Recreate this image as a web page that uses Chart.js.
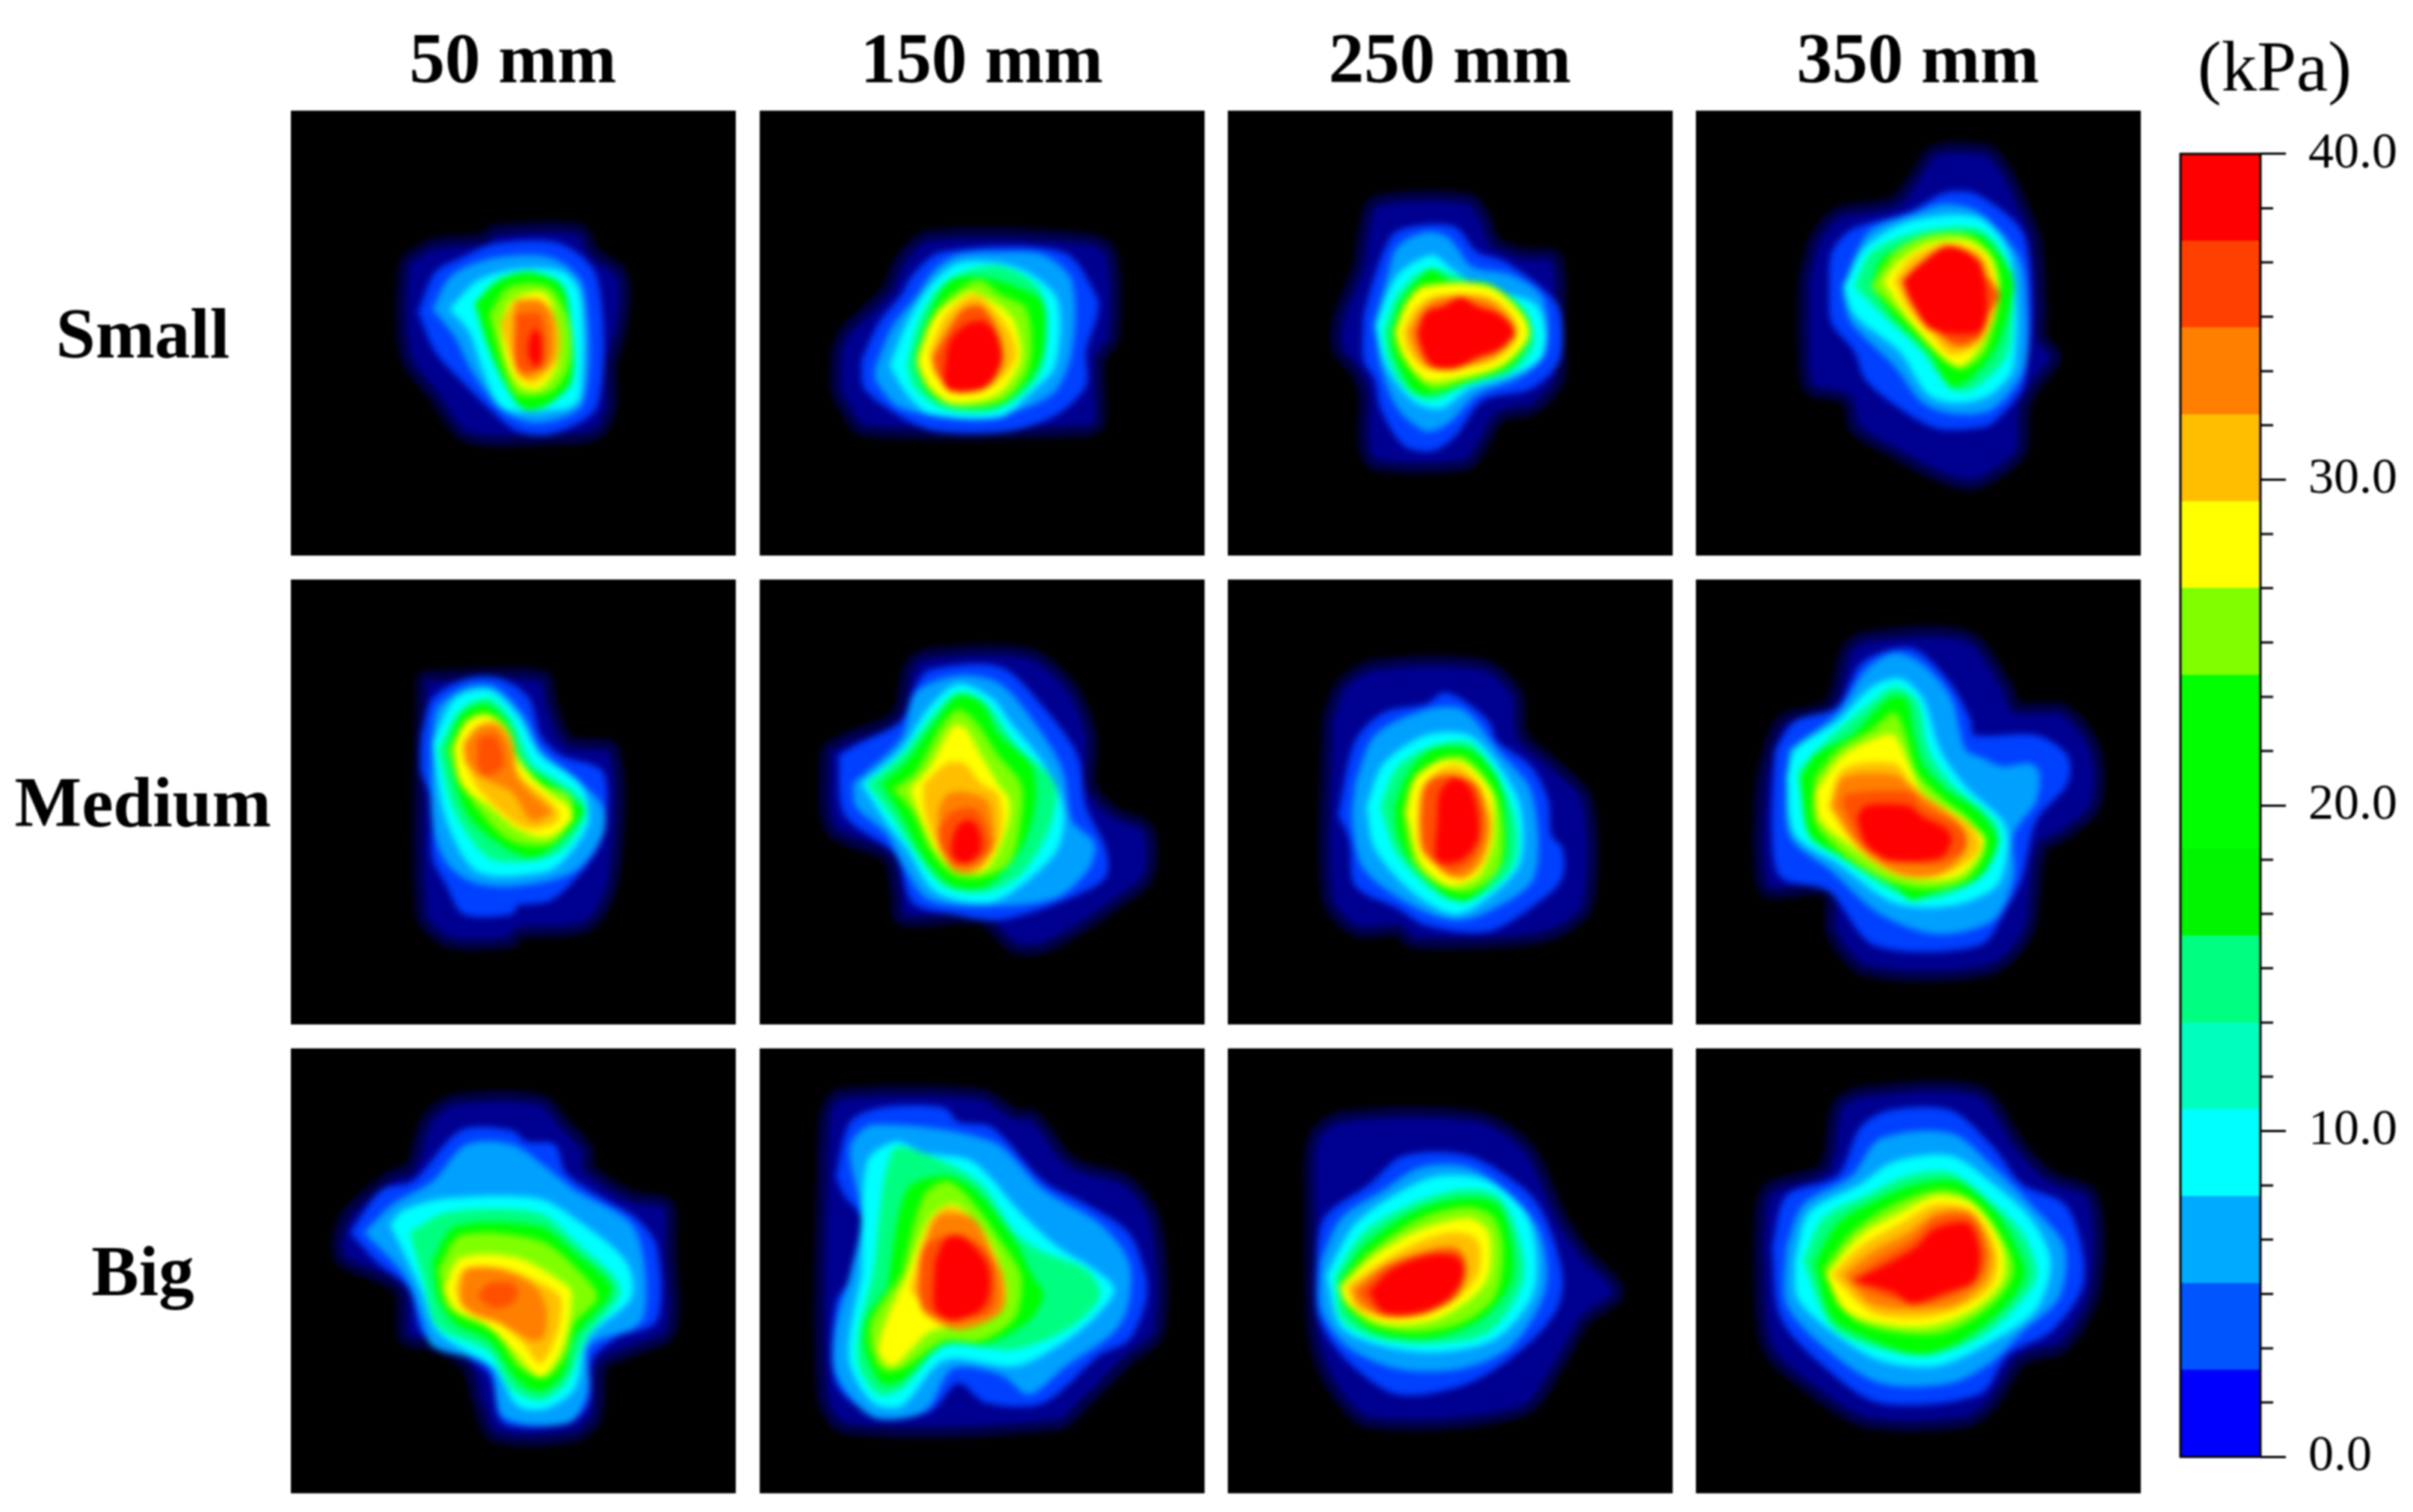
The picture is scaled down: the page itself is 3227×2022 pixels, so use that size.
<!DOCTYPE html>
<html>
<head>
<meta charset="utf-8">
<title>Pressure contours</title>
<script src="https://cdn.jsdelivr.net/npm/chart.js@4"></script>
<style>
  html, body { margin: 0; background: #fff; }
  #page { position: relative; width: 3227px; height: 2022px; overflow: hidden; filter: blur(0.8px); }
  .panel { position: absolute; width: 595px; height: 595px; background: #000; overflow: hidden; }
  .panel canvas { filter: blur(4px); }
  .label { position: absolute; transform: translate(-50%, -50%); font-family: "Liberation Serif", serif; font-size: 95px; color: #000; white-space: nowrap; }
  .bold { font-weight: bold; }
  #colorbar { position: absolute; left: 2900px; top: 135px; }
</style>
</head>
<body>
<div id="page"></div>
<script>
const columnTitles = ["50 mm", "150 mm", "250 mm", "350 mm"];
const rowTitles = ["Small", "Medium", "Big"];
const unitLabel = "(kPa)";

// colorbar, bottom to top
const bandEdges = [0, 2.67, 5.33, 8, 10.67, 13.33, 16, 18.67, 21.33, 24, 26.67, 29.33, 32, 34.67, 37.33, 40];
const bandColors = ["#0000ff", "#0055ff", "#00aaff", "#00ffff", "#00ffbf", "#00ff80", "#00f600", "#00ff00", "#00ff00", "#80ff00", "#ffff00", "#ffbf00", "#ff8000", "#ff4000", "#ff0000"];
const majorTicks = [0, 10, 20, 30, 40];
const minorTicks = [1.67, 3.33, 5, 6.67, 8.33, 11.67, 13.33, 15, 16.67, 18.33, 21.67, 23.33, 25, 26.67, 28.33, 31.67, 33.33, 35, 36.67, 38.33];

// contour fill colour for each level index used in the panels below
const levelColors = ["#000090", "#0040ff", "#00a0ff", "#00ffff", "#00ff80", "#00ff00", "#80ff00", "#ffff00", "#ffbf00", "#ff8000", "#ff5000", "#ff0000"];

// each panel: [level, outline x,y pairs], outer band first
const small50 = [
  [0, [40,53, 50,47, 68,45, 72,42, 102,42, 107,50, 117,58, 117,75, 113,90, 113,105, 108,114, 92,116, 62,115, 50,100, 41,88, 39,70]],
  [1, [45,71, 51,57, 60,52, 72,47, 95,47, 108,59, 108,104, 92,114, 80,113, 70,105, 60,95, 51,85]],
  [2, [50,70, 57,58, 72,52, 92,52, 103,62, 103,103, 88,110, 75,106, 64,92, 58,80]],
  [3, [56,70, 66,60, 80,56, 96,57, 102,65, 102,101, 97,105, 75,105, 68,92, 63,78]],
  [5, [65,68, 73,60, 84,57, 95,61, 98,70, 99,95, 90,104, 82,105, 76,97, 70,84]],
  [6, [70,72, 76,63, 84,61, 92,63, 98,75, 98,90, 92,99, 80,100, 75,90]],
  [7, [74,76, 78,67, 88,64, 92,68, 94,85, 94,90, 88,98, 81,97, 76,88]],
  [8, [74,75, 79,68, 88,67, 94,75, 94,88, 86,96, 81,94, 77,85]],
  [9, [79,67, 88,67, 92,72, 92,88, 84,94, 80,92]],
  [10, [79,72, 88,72, 89,90, 80,91]],
  [11, [84,82, 86,77, 88,80, 88,89, 86,90, 84,86]]
];
const small150 = [
  [0, [27,85, 30,78, 36,72, 45,63, 50,52, 60,44, 115,45, 124,50, 125,80, 120,88, 120,110, 115,113, 37,113, 30,105, 27,98]],
  [1, [36,88, 42,75, 50,65, 54,58, 64,50, 107,50, 119,66, 119,72, 115,85, 115,97, 105,107, 88,113, 62,113, 50,108, 37,98]],
  [2, [41,90, 47,76, 55,66, 62,56, 70,51, 85,50, 100,51, 110,60, 110,85, 103,100, 80,108, 50,105, 41,95]],
  [3, [46,90, 52,75, 60,62, 70,54, 85,54, 96,58, 105,67, 104,90, 95,100, 85,108, 60,107, 52,100]],
  [4, [52,90, 56,75, 62,64, 72,57, 85,55, 98,62, 101,75, 99,92, 90,102, 80,106, 65,105, 55,98]],
  [5, [55,86, 60,72, 67,60, 78,59, 90,62, 100,68, 100,85, 95,95, 84,104, 68,104, 60,100, 56,92]],
  [6, [56,86, 63,70, 72,62, 78,60, 85,65, 94,70, 95,90, 86,102, 68,104, 60,98]],
  [7, [56,86, 62,72, 74,64, 78,65, 86,70, 90,75, 92,88, 84,100, 68,103, 60,98, 56,90]],
  [8, [60,85, 66,72, 76,65, 84,72, 89,80, 90,88, 82,97, 68,99, 62,92]],
  [10, [61,87, 68,75, 72,70, 78,69, 84,78, 85,88, 79,98, 67,98, 62,92]],
  [11, [66,85, 68,80, 74,75, 80,75, 85,83, 85,90, 79,98, 66,98]]
];
const small250 = [
  [0, [38,78, 40,70, 46,55, 48,42, 52,32, 85,31, 91,38, 94,46, 103,50, 116,52, 117,80, 117,95, 108,105, 96,108, 90,118, 84,125, 52,125, 48,118, 48,100, 45,92, 39,85]],
  [1, [48,72, 52,58, 58,44, 65,41, 80,41, 88,50, 97,53, 110,62, 117,70, 117,88, 107,98, 90,102, 80,115, 72,120, 62,118, 54,105, 52,95, 48,88]],
  [2, [52,75, 56,60, 60,48, 70,43, 78,45, 86,55, 100,58, 111,66, 112,85, 103,94, 88,100, 78,110, 70,113, 60,105, 54,90]],
  [3, [52,76, 60,58, 72,51, 78,55, 88,62, 108,68, 112,78, 110,88, 98,94, 85,98, 75,105, 65,102, 56,90]],
  [4, [55,78, 60,65, 70,56, 80,58, 88,62, 104,72, 108,82, 100,92, 85,96, 72,102, 63,98, 57,88]],
  [5, [58,76, 62,66, 72,56, 78,60, 92,61, 104,70, 107,78, 100,90, 85,96, 70,100, 65,98, 58,84]],
  [6, [59,78, 65,66, 70,62, 92,62, 104,72, 106,80, 98,90, 84,95, 72,98, 65,92, 60,84]],
  [7, [59,78, 63,68, 69,62, 92,62, 104,72, 106,80, 96,90, 82,94, 70,95, 63,88]],
  [8, [62,78, 66,70, 72,66, 92,66, 100,72, 102,80, 94,88, 80,91, 70,91, 64,85]],
  [9, [64,78, 68,71, 74,66, 90,66, 100,74, 101,80, 93,87, 78,91, 70,90, 66,84]],
  [11, [67,78, 70,71, 76,69, 82,66, 88,69, 96,72, 101,78, 96,84, 88,87, 80,91, 72,90, 68,83]]
];
const small350 = [
  [0, [38,60, 42,45, 50,36, 70,32, 78,22, 84,14, 103,14, 110,22, 116,35, 120,45, 122,70, 122,80, 127,87, 120,97, 116,105, 115,120, 108,127, 98,132, 88,130, 72,122, 56,112, 53,102, 40,98, 38,85]],
  [1, [47,65, 48,50, 55,42, 75,36, 88,29, 100,30, 116,45, 116,95, 105,110, 98,112, 85,112, 72,105, 60,95, 56,85, 48,75]],
  [2, [52,65, 56,52, 62,42, 78,36, 88,33, 100,36, 113,50, 116,60, 116,90, 105,105, 92,107, 80,103, 70,90, 55,75]],
  [3, [52,62, 60,48, 76,39, 100,38, 111,52, 112,90, 104,100, 92,103, 82,100, 72,85, 56,72]],
  [4, [56,62, 62,50, 78,43, 100,42, 110,55, 110,85, 98,98, 90,98, 80,85, 66,72]],
  [5, [62,62, 66,52, 80,46, 85,44, 100,44, 110,55, 112,62, 110,72, 105,85, 96,95, 90,97, 82,85, 70,73]],
  [6, [62,62, 70,50, 82,44, 96,44, 105,52, 107,65, 102,85, 94,91, 88,88, 78,78]],
  [7, [66,60, 72,53, 82,47, 96,46, 104,52, 107,65, 102,80, 94,90, 88,88, 76,75]],
  [8, [70,60, 76,52, 88,47, 100,50, 105,60, 106,70, 100,82, 90,86, 84,80, 75,70]],
  [10, [73,60, 80,54, 88,48, 96,50, 102,58, 107,65, 103,72, 100,80, 92,83, 84,77, 76,68]],
  [11, [73,60, 78,55, 88,48, 96,50, 101,55, 101,77, 83,77, 76,67]]
];
const medium50 = [
  [0, [46,34, 89,34, 92,44, 98,57, 114,60, 114,105, 105,122, 80,125, 78,128, 56,128, 46,118]],
  [1, [46,55, 50,42, 62,35, 74,35, 84,42, 88,55, 95,62, 110,68, 110,90, 105,100, 92,113, 80,115, 78,118, 61,118, 55,108, 50,98, 50,78, 46,68]],
  [2, [50,55, 52,45, 62,38, 72,38, 82,48, 88,60, 100,70, 110,80, 110,90, 100,103, 80,108, 65,107, 55,100, 50,85]],
  [3, [50,58, 58,42, 70,39, 80,48, 88,62, 102,72, 105,85, 98,97, 90,103, 66,103, 55,85]],
  [4, [52,60, 60,46, 70,42, 78,50, 85,65, 100,75, 104,82, 96,95, 85,99, 70,98, 58,82]],
  [5, [55,60, 60,48, 68,44, 76,50, 82,65, 92,72, 100,78, 103,82, 95,92, 85,98, 72,92, 62,82]],
  [6, [56,60, 62,50, 68,47, 76,52, 80,62, 88,72, 98,76, 99,84, 92,93, 80,93, 72,88, 60,72]],
  [7, [58,58, 62,50, 70,48, 76,53, 80,64, 92,76, 98,80, 99,85, 90,91, 80,88, 70,80, 60,72]],
  [8, [61,58, 66,52, 72,50, 78,56, 80,68, 93,80, 94,85, 85,88, 78,85, 65,72]],
  [9, [61,58, 66,52, 73,52, 78,60, 80,70, 90,80, 92,82, 85,85, 78,75, 68,70, 62,65]],
  [10, [66,56, 72,55, 75,63, 74,67, 68,69, 66,65]]
];
const medium150 = [
  [0, [23,60, 30,56, 48,48, 53,30, 60,26, 95,26, 110,38, 117,55, 117,73, 125,82, 137,88, 137,105, 125,115, 110,125, 100,130, 90,130, 78,120, 50,120, 48,110, 45,98, 25,88]],
  [1, [28,62, 35,58, 50,50, 55,38, 60,32, 85,31, 100,45, 112,62, 115,80, 122,95, 122,105, 110,112, 85,120, 68,118, 54,114, 48,97, 30,83]],
  [2, [33,72, 50,56, 55,40, 70,34, 85,37, 100,55, 107,68, 110,85, 118,93, 116,102, 105,112, 85,115, 60,113, 50,100, 45,90, 34,80]],
  [3, [36,72, 50,60, 60,45, 70,37, 82,42, 88,50, 100,65, 107,80, 105,95, 92,108, 80,114, 62,110, 52,95, 45,86]],
  [4, [38,72, 50,62, 62,47, 70,40, 80,44, 90,58, 104,72, 102,88, 92,104, 80,110, 65,108, 54,95, 47,84]],
  [5, [43,72, 52,64, 62,50, 70,41, 78,43, 84,54, 96,66, 97,80, 92,95, 80,108, 68,108, 58,98, 50,83]],
  [6, [47,74, 55,68, 64,52, 70,46, 76,50, 84,62, 92,72, 92,85, 88,100, 78,105, 68,104, 60,95, 54,82]],
  [7, [53,74, 60,66, 68,52, 72,52, 78,62, 84,72, 88,78, 87,88, 80,102, 70,103, 62,95, 56,82]],
  [8, [58,72, 66,65, 72,65, 78,72, 84,76, 85,90, 78,102, 70,103, 62,92, 58,80]],
  [9, [63,82, 66,76, 72,75, 80,78, 82,85, 82,95, 75,103, 68,102, 64,92]],
  [10, [63,88, 68,82, 76,81, 80,88, 81,95, 75,100, 68,100, 64,95]],
  [11, [68,92, 70,87, 74,85, 77,88, 78,95, 75,99, 71,100, 68,97]]
];
const medium250 = [
  [0, [35,50, 40,37, 52,30, 90,30, 102,40, 104,55, 115,65, 127,78, 127,115, 115,125, 95,128, 65,128, 60,124, 45,124, 35,112]],
  [1, [39,83, 45,57, 55,47, 70,44, 76,40, 82,42, 92,50, 95,57, 107,66, 113,78, 114,90, 118,95, 118,105, 112,112, 92,124, 70,122, 60,116, 45,108, 43,92]],
  [2, [45,72, 52,55, 70,46, 83,46, 95,60, 107,75, 108,105, 92,117, 80,120, 65,115, 48,102, 44,85]],
  [3, [49,80, 55,65, 70,55, 85,55, 95,65, 103,80, 103,100, 92,112, 80,118, 65,110, 52,95]],
  [4, [54,80, 60,66, 72,59, 86,58, 98,75, 102,90, 100,102, 88,112, 76,112, 60,97]],
  [5, [59,80, 64,68, 72,60, 85,60, 95,70, 98,85, 97,100, 85,113, 78,112, 65,100, 60,90]],
  [6, [62,82, 66,70, 76,63, 84,63, 94,75, 97,90, 95,103, 85,110, 75,108, 66,100]],
  [7, [63,82, 66,70, 75,64, 84,65, 93,75, 94,85, 93,95, 88,105, 78,108, 68,100]],
  [8, [67,85, 68,75, 75,67, 82,66, 90,75, 93,85, 90,100, 82,106, 75,102, 68,95]],
  [9, [68,85, 70,72, 78,69, 86,72, 92,85, 91,95, 85,104, 77,104, 70,95]],
  [10, [68,85, 70,72, 78,69, 88,73, 90,88, 87,98, 80,103, 73,100, 69,95]],
  [11, [74,85, 75,75, 80,70, 85,73, 88,82, 88,92, 82,99, 74,99]]
];
const medium350 = [
  [0, [23,70, 30,50, 47,44, 53,25, 60,20, 96,20, 110,38, 113,45, 130,46, 141,60, 141,80, 130,90, 122,95, 117,125, 103,138, 60,138, 48,125, 46,110, 25,110, 22,95]],
  [1, [28,60, 35,50, 50,45, 58,30, 68,25, 78,25, 90,37, 97,50, 98,55, 120,55, 131,62, 131,72, 120,85, 115,105, 110,115, 100,129, 63,129, 47,110, 30,105, 27,90]],
  [2, [33,60, 50,47, 60,32, 70,26, 80,30, 90,42, 95,60, 101,63, 108,66, 118,65, 121,68, 120,78, 112,90, 112,105, 105,120, 85,125, 65,118, 48,103, 33,90]],
  [3, [32,70, 35,60, 50,50, 62,38, 72,35, 80,42, 86,60, 95,73, 108,85, 110,93, 106,108, 90,115, 70,114, 50,100, 35,90]],
  [4, [36,68, 45,58, 60,45, 70,38, 78,43, 82,60, 90,72, 105,85, 107,93, 100,105, 85,112, 70,110, 50,97, 40,88]],
  [5, [37,70, 42,62, 55,55, 68,42, 74,42, 77,55, 80,65, 88,74, 100,82, 106,92, 100,105, 85,110, 76,113, 70,108, 50,97, 40,90]],
  [6, [42,70, 50,60, 62,53, 70,47, 74,55, 78,68, 88,78, 97,85, 102,95, 95,106, 80,109, 65,105, 50,95, 42,85]],
  [7, [42,75, 52,62, 66,55, 70,55, 75,65, 80,75, 95,85, 102,92, 95,103, 85,106, 70,104, 52,92, 44,85]],
  [8, [47,80, 52,67, 70,65, 76,72, 85,80, 97,87, 100,95, 92,102, 85,104, 70,103, 55,92]],
  [9, [48,80, 52,70, 70,69, 78,75, 92,85, 95,95, 86,104, 72,104, 58,95]],
  [10, [52,80, 53,76, 75,75, 80,80, 94,88, 95,95, 86,100, 72,99, 60,95]],
  [11, [57,84, 60,80, 75,80, 80,84, 88,88, 90,92, 86,98, 68,99, 60,93]]
];
const big50 = [
  [0, [16,68, 20,58, 35,45, 42,42, 48,25, 58,18, 88,18, 97,27, 105,36, 105,42, 120,52, 133,55, 134,70, 134,100, 120,107, 110,112, 108,130, 100,137, 72,137, 66,125, 62,112, 50,105, 40,102, 38,85, 18,75]],
  [1, [21,65, 32,50, 43,47, 60,29, 78,29, 83,33, 93,34, 97,44, 110,53, 122,60, 129,70, 129,96, 115,102, 106,110, 105,125, 98,132, 75,132, 70,115, 55,105, 46,100, 42,85, 30,75]],
  [2, [26,65, 36,55, 50,47, 62,34, 78,34, 90,42, 100,50, 120,62, 125,80, 123,97, 105,105, 105,120, 98,132, 75,130, 70,112, 50,105, 46,95, 40,80]],
  [3, [35,62, 40,57, 55,53, 87,53, 100,60, 118,75, 120,88, 105,102, 100,120, 90,127, 80,126, 72,113, 52,100, 46,85]],
  [4, [42,65, 55,58, 87,58, 100,68, 116,85, 104,102, 97,118, 88,124, 78,120, 70,107, 52,98, 47,82]],
  [5, [50,75, 58,63, 88,63, 100,72, 113,85, 100,102, 96,115, 88,121, 80,117, 70,103, 58,97, 52,88]],
  [6, [52,78, 60,66, 88,68, 103,80, 108,88, 100,97, 97,108, 90,116, 80,112, 72,100, 56,92]],
  [7, [54,85, 60,74, 80,74, 95,82, 99,86, 96,105, 88,116, 78,106, 68,97, 58,92]],
  [8, [58,85, 61,78, 76,78, 90,84, 95,88, 94,100, 88,111, 82,104, 72,96, 62,92]],
  [9, [60,85, 62,78, 74,78, 86,84, 90,92, 89,102, 85,103, 74,97, 65,94, 60,90]],
  [10, [66,87, 70,83, 78,83, 80,87, 76,91, 70,91]]
];
const big150 = [
  [0, [23,22, 28,16, 78,16, 90,23, 97,24, 110,40, 130,47, 140,62, 141,100, 130,110, 115,125, 105,133, 30,134, 22,122, 22,40]],
  [1, [27,45, 32,26, 43,21, 65,21, 70,26, 82,28, 100,47, 115,55, 130,65, 136,80, 136,90, 130,103, 120,108, 100,125, 80,125, 70,118, 60,128, 42,130, 27,118, 27,90, 33,80, 36,60, 30,52]],
  [2, [32,80, 36,60, 32,35, 40,27, 82,33, 100,50, 120,62, 130,75, 130,90, 125,100, 108,112, 95,122, 85,115, 68,113, 58,128, 40,130, 27,115, 27,98]],
  [3, [36,80, 38,40, 48,33, 58,37, 75,40, 92,58, 105,70, 118,78, 125,85, 118,95, 105,105, 90,112, 65,110, 50,126, 40,125, 32,112, 32,100]],
  [4, [40,80, 47,36, 60,38, 78,48, 90,65, 100,72, 115,78, 120,87, 110,98, 90,106, 65,105, 50,120, 42,122, 35,112, 35,100]],
  [5, [45,85, 52,50, 65,45, 76,50, 90,68, 96,80, 100,87, 95,96, 80,104, 65,104, 50,117, 43,118, 37,105, 38,95]],
  [6, [50,80, 58,52, 66,47, 74,53, 85,68, 92,80, 90,95, 78,103, 65,103, 50,113, 43,113, 39,103, 40,95]],
  [7, [52,80, 60,60, 68,55, 77,62, 83,72, 87,85, 85,93, 75,97, 60,100, 47,112, 42,107, 45,95]],
  [8, [53,85, 60,62, 66,56, 75,60, 82,72, 86,85, 85,93, 70,99, 60,93]],
  [9, [56,85, 62,60, 75,60, 82,72, 86,82, 85,93, 70,99, 58,93]],
  [10, [56,85, 58,70, 66,66, 72,66, 80,72, 83,82, 81,93, 67,95, 58,92]],
  [11, [62,75, 66,67, 72,67, 80,76, 81,85, 78,92, 68,96, 62,92]]
];
const big250 = [
  [0, [29,60, 30,32, 40,24, 88,24, 106,35, 118,60, 126,72, 138,86, 126,96, 118,110, 104,128, 50,132, 36,118, 30,100]],
  [1, [31,80, 34,60, 50,48, 62,38, 85,38, 105,50, 112,60, 118,80, 116,92, 105,105, 85,118, 60,122, 42,110, 32,95]],
  [2, [33,75, 40,60, 55,50, 68,42, 85,42, 100,52, 110,65, 112,85, 100,105, 82,113, 60,113, 42,105, 33,92]],
  [3, [35,80, 45,62, 62,50, 75,45, 92,47, 106,60, 108,85, 95,102, 75,107, 55,105, 40,98]],
  [4, [38,80, 48,65, 65,55, 82,50, 95,52, 102,65, 104,82, 92,100, 72,104, 52,102, 40,95]],
  [5, [39,83, 48,70, 65,58, 82,53, 95,55, 100,68, 100,82, 90,95, 72,102, 52,100, 42,92]],
  [6, [39,84, 50,72, 68,60, 85,56, 94,60, 97,72, 94,88, 82,97, 65,100, 50,97, 42,90]],
  [7, [40,84, 52,73, 68,64, 85,60, 92,65, 92,80, 86,88, 72,96, 55,97, 42,90]],
  [8, [42,84, 55,75, 68,68, 80,65, 88,68, 88,80, 78,90, 60,95, 46,92]],
  [9, [44,85, 55,77, 68,72, 80,70, 84,76, 82,85, 70,93, 55,94, 46,90]],
  [10, [46,86, 56,77, 70,72, 82,72, 84,78, 80,88, 68,94, 54,94]],
  [11, [50,86, 58,78, 72,73, 81,74, 83,80, 78,88, 68,93, 55,93]]
];
const big350 = [
  [0, [22,70, 25,50, 45,42, 50,20, 60,15, 100,15, 115,35, 125,45, 140,52, 141,85, 130,105, 115,110, 105,125, 95,132, 60,132, 40,120, 25,105]],
  [1, [27,70, 32,52, 50,45, 58,28, 68,22, 90,22, 105,35, 115,48, 130,55, 136,70, 136,85, 125,100, 110,108, 100,122, 65,125, 45,112, 30,95]],
  [2, [32,70, 38,55, 55,45, 65,32, 90,30, 105,42, 118,55, 130,70, 128,88, 115,100, 105,110, 90,118, 65,118, 45,105, 32,90]],
  [3, [35,75, 40,58, 58,48, 70,40, 90,38, 105,48, 118,60, 125,75, 120,92, 105,103, 85,112, 65,110, 48,100, 36,88]],
  [4, [38,75, 45,60, 60,52, 75,45, 90,44, 105,55, 115,65, 120,80, 112,92, 100,102, 82,108, 62,105, 48,98]],
  [5, [42,76, 50,62, 65,53, 78,48, 92,47, 105,57, 112,68, 116,80, 108,92, 92,104, 78,108, 60,102, 48,95]],
  [6, [45,78, 55,65, 70,55, 85,50, 95,52, 105,62, 112,78, 105,90, 88,100, 70,100, 55,95]],
  [7, [46,80, 58,66, 72,58, 85,52, 98,55, 108,70, 108,82, 98,92, 82,98, 65,97, 52,92]],
  [8, [48,80, 58,70, 72,62, 85,55, 98,58, 106,72, 104,84, 92,92, 78,95, 62,93]],
  [9, [52,80, 62,72, 75,65, 85,58, 97,58, 104,72, 102,82, 92,90, 78,92, 62,90]],
  [10, [54,82, 64,75, 76,68, 85,60, 97,60, 102,72, 99,82, 88,88, 78,90, 65,87]],
  [11, [56,82, 68,76, 78,70, 84,64, 96,62, 100,72, 98,82, 88,86, 76,90, 70,86]]
];

const panels = [
  [small50, small150, small250, small350],
  [medium50, medium150, medium250, medium350],
  [big50, big150, big250, big350],
];

const page = document.getElementById("page");
const panelLeft = [389, 1016, 1642, 2268];
const panelTop = [148, 775, 1402];

function addLabel(text, x, y, bold) {
  const el = document.createElement("div");
  el.className = bold ? "label bold" : "label";
  el.style.left = x + "px";
  el.style.top = y + "px";
  el.textContent = text;
  page.appendChild(el);
}

function toPoints(flat) {
  const pts = [];
  for (let i = 0; i < flat.length; i += 2) pts.push({ x: flat[i], y: flat[i + 1] });
  pts.push({ x: flat[0], y: flat[1] });
  return pts;
}

function drawPanel(contours, left, top) {
  const wrap = document.createElement("div");
  wrap.className = "panel";
  wrap.style.left = left + "px";
  wrap.style.top = top + "px";
  const canvas = document.createElement("canvas");
  canvas.width = 595;
  canvas.height = 595;
  wrap.appendChild(canvas);
  page.appendChild(wrap);
  // chart.js paints the first dataset last, so innermost band goes first
  const datasets = contours.slice().reverse().map(([level, outline]) => ({
    data: toPoints(outline),
    showLine: true,
    fill: "shape",
    backgroundColor: levelColors[level],
    // the outermost band fades into the black, a wide dark edge gives that
    borderColor: level === 0 ? "#000048" : levelColors[level],
    borderWidth: level === 0 ? 14 : 1,
    pointRadius: 0,
    tension: 0.3,
  }));
  new Chart(canvas, {
    type: "scatter",
    data: { datasets },
    options: {
      responsive: false,
      animation: false,
      events: [],
      layout: { padding: 0 },
      plugins: { legend: { display: false }, tooltip: { enabled: false } },
      scales: {
        x: { type: "linear", min: 0, max: 157, display: false },
        y: { type: "linear", min: 0, max: 157, reverse: true, display: false },
      },
    },
  });
}

const colorbarDecor = {
  id: "colorbarDecor",
  afterDraw(chart) {
    const { ctx, chartArea, scales } = chart;
    ctx.save();
    ctx.strokeStyle = "#000";
    ctx.lineWidth = 3;
    ctx.strokeRect(chartArea.left, chartArea.top, chartArea.right - chartArea.left, chartArea.bottom - chartArea.top);
    minorTicks.forEach((v) => {
      const y = scales.y.getPixelForValue(v);
      ctx.beginPath();
      ctx.moveTo(chartArea.right, y);
      ctx.lineTo(chartArea.right + 17, y);
      ctx.stroke();
    });
    ctx.restore();
  },
};

function drawColorbar() {
  const canvas = document.createElement("canvas");
  canvas.id = "colorbar";
  canvas.width = 327;
  // the y scale keeps 70.8px free above and below for the first and last label
  canvas.height = 1884;
  page.appendChild(canvas);
  new Chart(canvas, {
    type: "bar",
    data: {
      labels: ["kPa"],
      datasets: bandColors.map((color, i) => ({
        data: [[bandEdges[i], bandEdges[i + 1]]],
        backgroundColor: color,
        grouped: false,
        barPercentage: 1,
        categoryPercentage: 1,
      })),
    },
    options: {
      responsive: false,
      animation: false,
      events: [],
      layout: { padding: { left: 16, top: 0, bottom: 0, right: 0 } },
      plugins: { legend: { display: false }, tooltip: { enabled: false } },
      scales: {
        x: { display: false },
        y: {
          position: "right",
          min: 0,
          max: 40,
          afterFit: (scale) => { scale.width = 204; },
          afterBuildTicks: (scale) => { scale.ticks = majorTicks.map((value) => ({ value })); },
          grid: { drawOnChartArea: false, tickLength: 34, tickColor: "#000", tickWidth: 3 },
          border: { display: false },
          ticks: {
            color: "#000",
            padding: 30,
            font: { family: "Liberation Serif", size: 68 },
            callback: (v) => Number(v).toFixed(1),
          },
        },
      },
    },
    plugins: [colorbarDecor],
  });
}

columnTitles.forEach((t, i) => addLabel(t, panelLeft[i] + 297, 78, true));
rowTitles.forEach((t, i) => addLabel(t, 191, panelTop[i] + 298, true));
addLabel(unitLabel, 3042, 89, false);

panels.forEach((row, r) => row.forEach((contours, c) => drawPanel(contours, panelLeft[c], panelTop[r])));
drawColorbar();
</script>
</body>
</html>
